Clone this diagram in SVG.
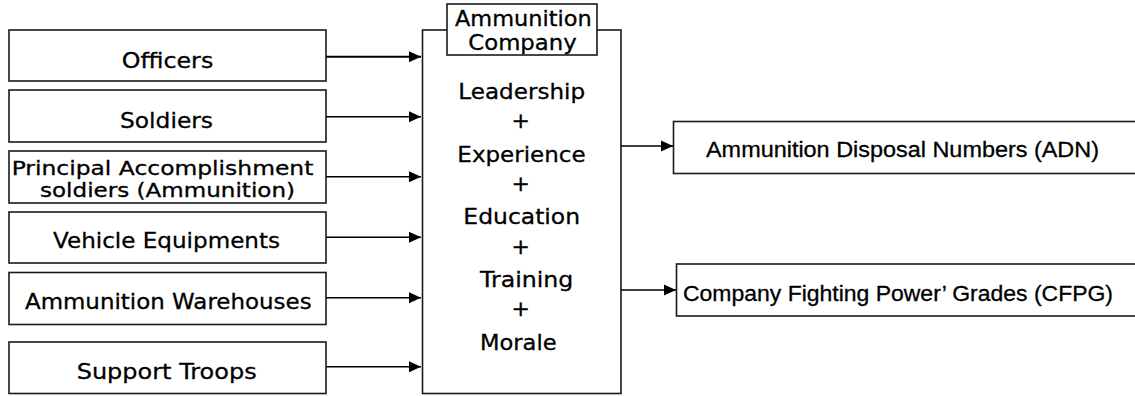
<svg xmlns="http://www.w3.org/2000/svg" width="1135" height="396" viewBox="0 0 1135 396">
  <style>
    .box { fill: #ffffff; stroke: #1a1a1a; stroke-width: 1.6; }
    .lbl { font-family: "DejaVu Sans", "Liberation Sans", sans-serif; font-size: 22px; fill: #000000; stroke: #000000; stroke-width: 0.3; text-anchor: middle; }
    .two { font-size: 19.5px; }
    .title { font-size: 21px; }
    .lblr { font-family: "Liberation Sans", "DejaVu Sans", sans-serif; font-size: 22px; fill: #000000; stroke: #000000; stroke-width: 0.3; text-anchor: start; }
    .link { stroke: #000000; stroke-width: 1.6; fill: none; marker-end: url(#head); }
  </style>
  <defs>
    <marker id="head" viewBox="0 0 12 12" refX="12" refY="6" markerWidth="12" markerHeight="12" markerUnits="userSpaceOnUse" orient="auto">
      <path d="M0,0.5 L12,6 L0,11.5 Z" fill="#000000"/>
    </marker>
  </defs>
  <rect width="1135" height="396" fill="#ffffff"/>

  <!-- input factors -->
  <g id="officers">
    <rect class="box" x="9" y="30" width="317" height="51"/>
    <text class="lbl" x="167.5" y="67.5" textLength="91.6" lengthAdjust="spacingAndGlyphs">Officers</text>
  </g>
  <g id="soldiers">
    <rect class="box" x="9" y="90" width="317" height="52"/>
    <text class="lbl" x="166.5" y="128" textLength="93" lengthAdjust="spacingAndGlyphs">Soldiers</text>
  </g>
  <g id="principal-soldiers">
    <rect class="box" x="9" y="151" width="317" height="52"/>
    <text class="lbl two" x="162.5" y="175" textLength="301.7" lengthAdjust="spacingAndGlyphs">Principal Accomplishment</text>
    <text class="lbl two" x="167.5" y="197" textLength="255" lengthAdjust="spacingAndGlyphs">soldiers (Ammunition)</text>
  </g>
  <g id="vehicles">
    <rect class="box" x="9" y="212" width="317" height="51"/>
    <text class="lbl" x="166.5" y="248.3" textLength="227" lengthAdjust="spacingAndGlyphs">Vehicle Equipments</text>
  </g>
  <g id="warehouses">
    <rect class="box" x="9" y="272.5" width="317" height="52"/>
    <text class="lbl" x="168.3" y="309.3" textLength="286.7" lengthAdjust="spacingAndGlyphs">Ammunition Warehouses</text>
  </g>
  <g id="support">
    <rect class="box" x="9" y="342" width="317" height="51.5"/>
    <text class="lbl" x="166.7" y="379.3" textLength="180" lengthAdjust="spacingAndGlyphs">Support Troops</text>
  </g>

  <!-- central company block -->
  <g id="company">
    <rect class="box" x="422.5" y="30" width="198.5" height="363.5"/>
    <rect class="box" x="447" y="4" width="150" height="51"/>
    <text class="lbl title" x="523.3" y="26" textLength="136.7" lengthAdjust="spacingAndGlyphs">Ammunition</text>
    <text class="lbl title" x="522.5" y="50" textLength="108.3" lengthAdjust="spacingAndGlyphs">Company</text>
    <text class="lbl" x="521.7" y="99.3" textLength="126.7" lengthAdjust="spacingAndGlyphs">Leadership</text>
    <text class="lbl" x="520.7" y="127.5">+</text>
    <text class="lbl" x="521.5" y="161.5" textLength="128.3" lengthAdjust="spacingAndGlyphs">Experience</text>
    <text class="lbl" x="520.7" y="190.5">+</text>
    <text class="lbl" x="521.7" y="224" textLength="116.7" lengthAdjust="spacingAndGlyphs">Education</text>
    <text class="lbl" x="520.7" y="254">+</text>
    <text class="lbl" x="526.7" y="286.5" textLength="93.3" lengthAdjust="spacingAndGlyphs">Training</text>
    <text class="lbl" x="520.7" y="315.5">+</text>
    <text class="lbl" x="518.3" y="350" textLength="76.7" lengthAdjust="spacingAndGlyphs">Morale</text>
  </g>

  <!-- outputs -->
  <g id="adn">
    <rect class="box" x="673.5" y="121.5" width="470" height="52"/>
    <text class="lblr" x="706" y="156.5" textLength="393" lengthAdjust="spacingAndGlyphs">Ammunition Disposal Numbers (ADN)</text>
  </g>
  <g id="cfpg">
    <rect class="box" x="676.5" y="264" width="470" height="52"/>
    <text class="lblr" x="683" y="300.5" textLength="430" lengthAdjust="spacingAndGlyphs">Company Fighting Power’ Grades (CFPG)</text>
  </g>

  <!-- connectors -->
  <g id="connectors">
    <line class="link" x1="326" y1="56.7" x2="421" y2="56.7" style="stroke-width:2"/>
    <line class="link" x1="326" y1="116.7" x2="421" y2="116.7"/>
    <line class="link" x1="326" y1="176.7" x2="421" y2="176.7"/>
    <line class="link" x1="326" y1="237.3" x2="421" y2="237.3"/>
    <line class="link" x1="326" y1="297.7" x2="421" y2="297.7"/>
    <line class="link" x1="326" y1="366.7" x2="421" y2="366.7"/>
    <line class="link" x1="621" y1="146" x2="673" y2="146"/>
    <line class="link" x1="621" y1="290" x2="676" y2="290"/>
  </g>
</svg>
